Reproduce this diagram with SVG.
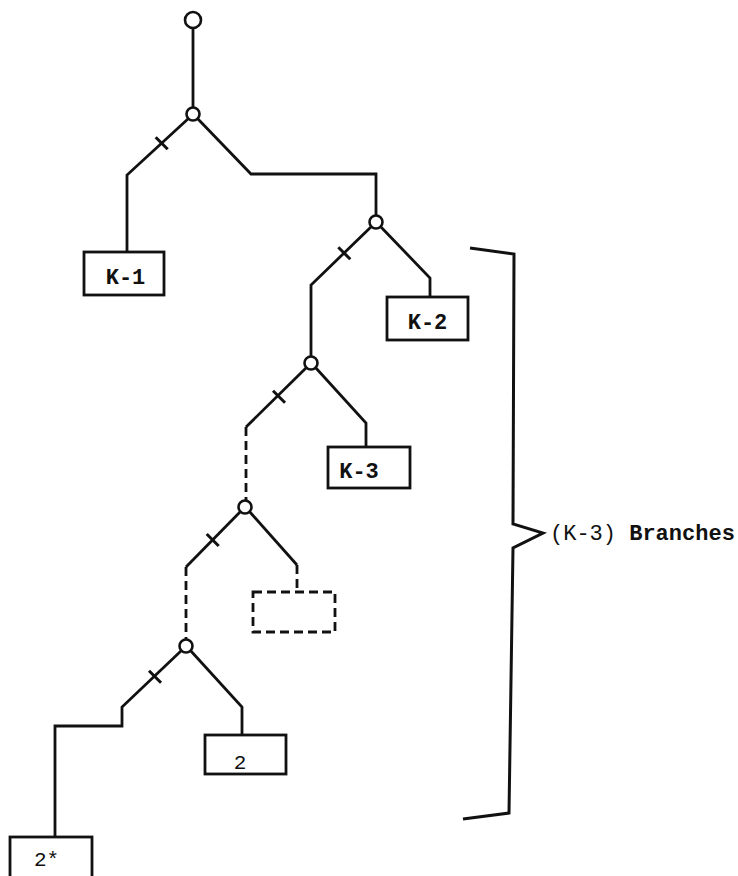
<svg xmlns="http://www.w3.org/2000/svg" width="738" height="876" viewBox="0 0 738 876">
<style>
.ln{fill:none;stroke:#111;stroke-width:2.8;stroke-linejoin:miter;stroke-linecap:butt}
.dash{stroke-dasharray:9 5}
.tick{fill:none;stroke:#111;stroke-width:3}
.node{fill:#fff;stroke:#111;stroke-width:2.6}
.box{fill:#fff;stroke:#111;stroke-width:2.8}
.lbl{font-family:"Liberation Mono","Courier New",monospace;font-size:22px;fill:#111;text-anchor:middle;font-weight:bold}
.num{font-family:"Liberation Mono","Courier New",monospace;font-size:21px;fill:#111;text-anchor:middle}
.side{font-family:"Liberation Mono","Courier New",monospace;font-size:22px;fill:#111}
</style>
<rect width="738" height="876" fill="#fff"/>
<g id="connectors">
<path class="ln" d="M193,27.5 L193,108"/>
<path class="ln" d="M189,118 L127,175 L127,252"/>
<path class="ln" d="M197,118 L251,174 L376,174 L376,216"/>
<path class="ln" d="M372,226 L311,285 L311,357"/>
<path class="ln" d="M380,226 L430,278 L430,297"/>
<path class="ln" d="M307,367 L246,427"/>
<path class="ln dash" d="M246,427 L246,501"/>
<path class="ln" d="M315,367 L366,423 L366,447"/>
<path class="ln" d="M241,511 L186,567"/>
<path class="ln dash" d="M186,567 L186,640"/>
<path class="ln" d="M249,511 L297,565"/>
<path class="ln dash" d="M297,565 L297,592"/>
<path class="ln" d="M182,650 L122,707 L122,726 L55,726 L55,837"/>
<path class="ln" d="M190,650 L242,707 L242,735"/>
<g id="ticks">
<path class="tick" d="M155.7,137.3 L167.7,149.3"/>
<path class="tick" d="M338.3,247.3 L350.3,259.3"/>
<path class="tick" d="M273,390.7 L285,402.7"/>
<path class="tick" d="M206.7,534 L218.7,546"/>
<path class="tick" d="M149,670.7 L161,682.7"/>
</g>
</g>
<g id="n0"><circle class="node" cx="193" cy="20" r="8"/></g>
<g id="n1"><circle class="node" cx="193" cy="114" r="6.5"/></g>
<g id="n2"><circle class="node" cx="376" cy="222" r="6.5"/></g>
<g id="n3"><circle class="node" cx="311" cy="363" r="6.5"/></g>
<g id="n4"><circle class="node" cx="245" cy="507" r="6.5"/></g>
<g id="n5"><circle class="node" cx="186" cy="646" r="6.5"/></g>
<g id="k1"><rect class="box" x="84" y="252" width="80" height="43"/><text class="lbl" x="125.5" y="284">K-1</text></g>
<g id="k2"><rect class="box" x="387" y="297" width="81" height="43"/><text class="lbl" x="427.5" y="329">K-2</text></g>
<g id="k3"><rect class="box" x="328" y="447" width="82" height="41"/><text class="lbl" x="359" y="478">K-3</text></g>
<g id="kdots"><rect class="box dash" x="253" y="592" width="82" height="40"/></g>
<g id="b2"><rect class="box" x="205" y="735" width="81" height="39"/><text class="num" x="240" y="769">2</text></g>
<g id="b2s"><rect class="box" x="10" y="837" width="82" height="50"/><text class="num" x="46.5" y="866">2*</text></g>
<g id="bracket">
<path class="ln" d="M470,248 L514,254 L513,524 L543,533 L513,548 L509,813 L463,819" style="stroke-width:3"/>
<text class="side" x="550" y="540">(K-3) <tspan font-weight="bold">Branches</tspan></text>
</g>
</svg>
